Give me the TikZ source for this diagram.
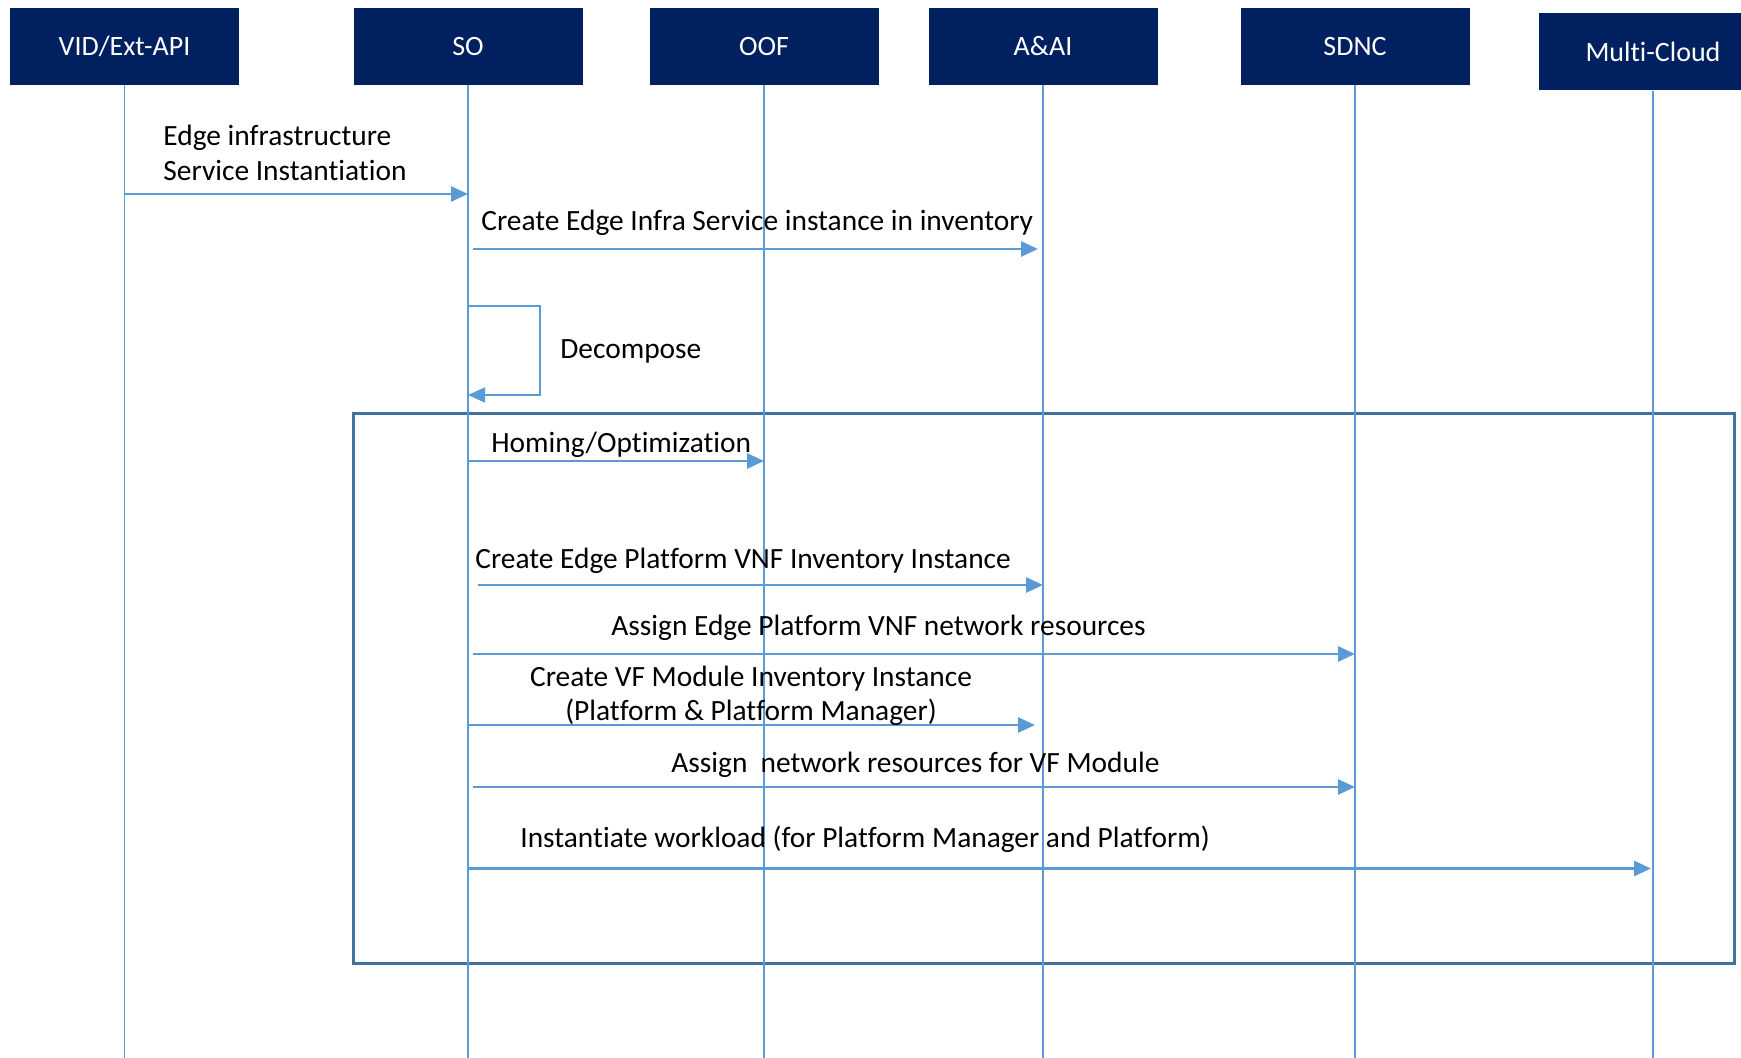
\documentclass[tikz,border=0pt]{standalone}
\usepackage{fontspec}
\setmainfont{Carlito}[Ligatures=NoCommon]
\usetikzlibrary{arrows.meta}
\definecolor{navy}{RGB}{0,32,96}
\definecolor{lifeblue}{RGB}{91,155,213}
\definecolor{frameblue}{RGB}{65,113,156}

\begin{document}
\begin{tikzpicture}[
    x=0.5pt, y=-0.5pt,
    every node/.style={font=\fontsize{14.7}{17.25}\selectfont, inner sep=0pt},
    actor/.style={fill=navy, text=white, font=\fontsize{14}{17}\selectfont,
      minimum width=114.5pt, minimum height=38.5pt},
    life/.style={draw=lifeblue, line width=0.7pt},
    msg/.style={draw=lifeblue, line width=1.4pt, -{Triangle[length=8.5pt, width=7.5pt]}},
    selfmsg/.style={draw=lifeblue, line width=0.8pt, -{Triangle[length=8.5pt, width=7.5pt]}},
    lbl/.style={anchor=west, align=left},
    frame/.style={draw=frameblue, line width=1.5pt}
  ]
  \clip (0,0) rectangle (1741,1058);
  \fill[white] (0,0) rectangle (1741,1058);

  % participants
  \node[actor] (vid)  at (124.5,46.5) {VID/Ext-API};
  \node[actor] (so)   at (468,46.5)   {SO};
  \node[actor] (oof)  at (764,46.5)   {OOF};
  \node[actor] (aai)  at (1043,46.5)  {A\&AI};
  \node[actor] (sdnc) at (1355,46.5)  {SDNC};
  \node[actor] (mc)   at (1653,52)    {Multi-Cloud};

  % loop frame
  \draw[frame] (353,414) rectangle (1734,963);

  % lifelines
  \coordinate (end) at (0,1058);
  \foreach \n in {vid,so,oof,aai,sdnc,mc}
    \draw[life] (\n.south) -- (\n.south |- end);

  % messages
  \coordinate (m1) at (0,194);
  \draw[msg] (vid |- m1) -- (so |- m1);
  \node[lbl] (l1) at (163,153) {Edge infrastructure\\Service Instantiation};

  \coordinate (m2) at (0,249);
  \draw[msg] ([xshift=2.5pt]so |- m2) -- ([xshift=-2.5pt]aai |- m2);
  \node[lbl] (l2) at (481,222.5) {Create Edge Infra Service instance in inventory};

  \coordinate (dtop) at (540,306);
  \coordinate (dbot) at (540,395);
  \draw[selfmsg] (so |- dtop) -- (dtop) -- (dbot) -- (so |- dbot);
  \node[lbl] (l3) at (560,351) {Decompose};

  \coordinate (m4) at (0,461);
  \draw[msg] (so |- m4) -- (oof |- m4);
  \node[lbl] (l4) at (491,444.5) {Homing/Optimization};

  \coordinate (m5) at (0,585);
  \draw[msg] ([xshift=5pt]so |- m5) -- (aai |- m5);
  \node[lbl] (l5) at (475,560.5) {Create Edge Platform VNF Inventory Instance};

  \coordinate (m6) at (0,654);
  \draw[msg] ([xshift=2.5pt]so |- m6) -- (sdnc |- m6);
  \node[lbl] (l6) at (611,627.5) {Assign Edge Platform VNF network resources};

  \coordinate (m7) at (0,725);
  \draw[msg] (so |- m7) -- ([xshift=-4pt]aai |- m7);
  \node[align=center] (l7) at (751,696) {Create VF Module Inventory Instance\\(Platform \& Platform Manager)};

  \coordinate (m8) at (0,787);
  \draw[msg] ([xshift=2.5pt]so |- m8) -- (sdnc |- m8);
  \node[lbl] (l8) at (671,764.5) {Assign\ \ network resources for VF Module};

  \coordinate (m9) at (0,868.5);
  \draw[msg] (so |- m9) -- ([xshift=-1pt]mc |- m9);
  \node[lbl] (l9) at (520,839.5) {Instantiate workload (for Platform Manager and Platform)};
\end{tikzpicture}
\end{document}
